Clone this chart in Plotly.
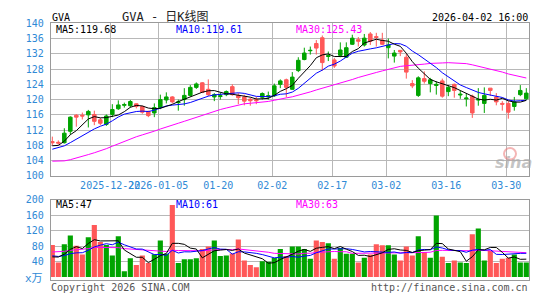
import plotly.graph_objects as go

# ---------------- data ----------------
dates = [
    "2025-12-08", "2025-12-09", "2025-12-10", "2025-12-11", "2025-12-12",
    "2025-12-15", "2025-12-16", "2025-12-17", "2025-12-18", "2025-12-19",
    "2025-12-22", "2025-12-23", "2025-12-24", "2025-12-26", "2025-12-29",
    "2025-12-30", "2025-12-31", "2026-01-02", "2026-01-05", "2026-01-06",
    "2026-01-07", "2026-01-08", "2026-01-09", "2026-01-12", "2026-01-13",
    "2026-01-14", "2026-01-15", "2026-01-16", "2026-01-20", "2026-01-21",
    "2026-01-22", "2026-01-23", "2026-01-26", "2026-01-27", "2026-01-28",
    "2026-01-29", "2026-01-30", "2026-02-02", "2026-02-03", "2026-02-04",
    "2026-02-05", "2026-02-06", "2026-02-09", "2026-02-10", "2026-02-11",
    "2026-02-12", "2026-02-13", "2026-02-17", "2026-02-18", "2026-02-19",
    "2026-02-20", "2026-02-23", "2026-02-24", "2026-02-25", "2026-02-26",
    "2026-02-27", "2026-03-02", "2026-03-03", "2026-03-04", "2026-03-05",
    "2026-03-06", "2026-03-09", "2026-03-10", "2026-03-11", "2026-03-12",
    "2026-03-13", "2026-03-16", "2026-03-17", "2026-03-18", "2026-03-19",
    "2026-03-20", "2026-03-23", "2026-03-24", "2026-03-25", "2026-03-26",
    "2026-03-27", "2026-03-30", "2026-03-31", "2026-04-01", "2026-04-02",
]

opens = [
    109.0, 108.8, 108.7, 111.7, 115.9, 115.9, 116.0, 116.1, 114.7, 113.5,
    116.1, 117.6, 118.5, 118.4, 118.9, 118.2, 116.9, 116.5, 117.9, 119.9,
    120.7, 119.2, 120.0, 121.1, 123.2, 124.4, 122.7, 120.7, 120.8, 121.3,
    123.4, 121.1, 120.7, 120.1, 120.0, 120.6, 120.7, 121.0, 124.0, 125.2,
    122.7, 127.6, 130.5, 132.8, 134.7, 136.2, 131.3, 130.4, 131.6, 131.1,
    134.5, 135.7, 134.3, 137.2, 136.5, 135.6, 133.6, 131.4, 132.9, 131.1,
    124.2, 121.1, 125.5, 124.2, 123.7, 124.9, 122.1, 124.0, 121.2, 120.2,
    120.9, 119.9, 119.0, 123.0, 120.7, 119.0, 119.0, 118.2, 121.3, 120.2,
]
highs = [
    110.3, 109.3, 112.5, 115.6, 116.2, 116.6, 117.3, 117.1, 115.2, 116.1,
    118.8, 119.8, 119.2, 119.9, 119.0, 118.4, 117.1, 119.0, 121.3, 121.9,
    120.9, 120.0, 123.0, 123.8, 124.5, 124.6, 125.3, 121.7, 121.9, 122.4,
    124.0, 121.7, 121.3, 120.5, 120.7, 121.9, 122.1, 124.2, 125.3, 125.5,
    127.2, 131.1, 133.6, 133.9, 135.6, 136.8, 132.6, 130.9, 135.0, 135.0,
    137.0, 136.4, 137.2, 137.7, 137.5, 137.5, 136.0, 133.0, 133.0, 132.0,
    125.1, 126.1, 127.4, 125.7, 124.8, 125.5, 123.8, 124.2, 122.4, 121.7,
    121.3, 123.0, 123.2, 123.0, 121.7, 119.6, 119.6, 120.7, 123.8, 123.0,
]
lows = [
    108.0, 108.2, 108.5, 110.8, 112.9, 114.8, 112.7, 113.3, 113.3, 113.1,
    115.4, 117.3, 117.9, 117.9, 117.7, 116.3, 115.4, 115.4, 117.5, 119.0,
    119.0, 117.1, 118.4, 120.8, 122.8, 121.7, 120.9, 119.6, 120.0, 120.9,
    121.0, 118.8, 118.5, 118.4, 118.8, 120.0, 120.0, 120.7, 123.0, 120.6,
    122.6, 127.2, 130.3, 131.8, 131.8, 127.6, 130.1, 128.3, 131.1, 130.9,
    134.3, 133.9, 133.9, 134.3, 133.9, 134.3, 130.8, 129.7, 131.4, 125.5,
    123.0, 120.7, 124.2, 121.9, 121.3, 120.5, 120.9, 120.5, 120.2, 118.2,
    115.2, 118.4, 116.5, 121.0, 118.5, 117.1, 115.0, 117.1, 120.9, 119.9,
]
closes = [
    108.7, 108.6, 111.2, 115.4, 115.4, 115.7, 116.9, 114.3, 113.8, 115.7,
    117.4, 118.6, 118.7, 119.5, 118.2, 116.7, 115.8, 117.9, 120.0, 120.7,
    119.4, 119.4, 121.1, 123.2, 124.1, 121.9, 121.3, 121.3, 121.0, 122.1,
    121.3, 120.5, 119.6, 119.7, 119.7, 121.6, 121.0, 123.6, 124.9, 123.2,
    125.9, 130.3, 132.2, 132.9, 133.5, 129.7, 131.5, 128.8, 133.0, 133.6,
    136.1, 135.3, 136.1, 135.3, 136.3, 134.5, 134.3, 132.2, 132.5, 127.2,
    123.6, 125.7, 124.8, 125.2, 124.0, 120.9, 123.2, 122.4, 121.4, 120.4,
    116.5, 120.0, 121.1, 122.4, 119.4, 118.8, 116.7, 119.4, 122.4, 121.7,
]
# volume in units of 10,000 shares (万)
volumes = [
    83.4, 37.8, 85.0, 107.5, 81.0, 58.5, 103.3, 134.8, 90.9, 83.4,
    56.0, 105.8, 15.4, 48.6, 31.2, 56.0, 36.2, 59.0, 95.0, 60.2,
    187.0, 36.2, 46.0, 46.0, 48.6, 72.6, 79.3, 95.0, 54.4, 56.0,
    61.0, 97.5, 42.8, 31.2, 25.4, 41.1, 39.5, 49.5, 72.6, 54.4,
    79.3, 79.3, 72.6, 47.8, 95.0, 90.9, 87.6, 47.8, 75.1, 60.2,
    60.2, 37.8, 50.3, 58.5, 85.0, 82.6, 82.6, 58.5, 42.8, 79.3,
    56.0, 105.8, 65.2, 50.3, 159.7, 52.7, 36.2, 42.8, 37.8, 36.2,
    110.8, 125.7, 42.8, 68.5, 36.2, 47.8, 50.3, 58.5, 37.8, 37.8,
]
# sessions before the visible window (only used by the moving averages)
prior_closes = [
    108.5, 108.8, 106.0, 104.0, 103.0, 101.0, 100.0, 99.0, 98.5, 98.0,
    99.0, 100.0, 101.0, 100.5, 102.0, 103.0, 101.5, 103.0, 104.0, 105.0,
    105.0, 106.0, 107.0, 106.5, 106.0, 108.1, 105.7, 106.9, 110.1,
]
prior_volumes = [
    30, 40, 35, 38, 32, 36, 37, 95, 80, 110,
    75, 90, 85, 100, 70, 95, 88, 82, 92, 90,
    55, 62, 58, 60, 55, 40, 48, 45, 45.6,
]
tick_index = [10, 18, 28, 37, 47, 56, 66, 76]
tick_labels = ["2025-12-22", "2026-01-05", "01-20", "02-02", "02-17", "03-02", "03-16", "03-30"]
price_ticks = [100, 104, 108, 112, 116, 120, 124, 128, 132, 136, 140]
volume_ticks = [40, 80, 120, 160, 200]
ma_price_labels = ["MA5:119.68", "MA10:119.61", "MA30:125.43"]
ma_volume_labels = ["MA5:47", "MA10:61", "MA30:63"]

# ---------------- helpers ----------------
W, H = 545, 300
def px(x):
    return x / W
def py(y):
    return 1 - y / H

n = len(closes)
xs = list(range(n))

def moving_average(prior, vals, k):
    full = list(prior) + list(vals)
    off = len(prior)
    return [sum(full[off + i - k + 1: off + i + 1]) / k for i in range(len(vals))]

ma5 = moving_average(prior_closes, closes, 5)
ma10 = moving_average(prior_closes, closes, 10)
ma30 = moving_average(prior_closes, closes, 30)
vma5 = moving_average(prior_volumes, volumes, 5)
vma10 = moving_average(prior_volumes, volumes, 10)
vma30 = moving_average(prior_volumes, volumes, 30)

UP = "#00a400"
DOWN = "#ff5858"
GRID = "#b8b8b8"
BORDER = "#9a9a9a"
AXTXT = "#2f8ad6"
MONO = "DejaVu Sans Mono, Noto Sans CJK SC, monospace"

vol_colors = [UP if c >= o else DOWN for o, c in zip(opens, closes)]

fig = go.Figure()

fig.add_trace(go.Candlestick(
    x=xs, open=opens, high=highs, low=lows, close=closes,
    increasing=dict(line=dict(color=UP, width=1), fillcolor=UP),
    decreasing=dict(line=dict(color=DOWN, width=1), fillcolor=DOWN),
    whiskerwidth=0, showlegend=False, xaxis="x", yaxis="y",
))
for vals, col in [(ma30, "#ff00ff"), (ma10, "#0000ff"), (ma5, "#000000")]:
    fig.add_trace(go.Scatter(x=xs, y=vals, mode="lines", line=dict(color=col, width=1),
                             showlegend=False, xaxis="x", yaxis="y", hoverinfo="skip"))

fig.add_trace(go.Bar(x=xs, y=volumes, marker=dict(color=vol_colors, line=dict(width=0)),
                     width=0.86, showlegend=False, xaxis="x2", yaxis="y2"))
for vals, col in [(vma30, "#ff00ff"), (vma10, "#0000ff"), (vma5, "#000000")]:
    fig.add_trace(go.Scatter(x=xs, y=vals, mode="lines", line=dict(color=col, width=1),
                             showlegend=False, xaxis="x2", yaxis="y2", hoverinfo="skip"))

xdom = [px(50.7), px(529)]
xrange = [-0.27, 79.45]
tickvals = [i - 0.35 for i in tick_index]

fig.update_layout(
    width=W, height=H,
    margin=dict(l=0, r=0, t=0, b=0),
    paper_bgcolor="white", plot_bgcolor="white",
    boxgap=0.16,
    bargap=0.14,
    font=dict(family=MONO, size=10, color="#000"),
    xaxis=dict(domain=xdom, range=xrange, anchor="y",
               tickvals=tickvals, ticktext=tick_labels, tickangle=0,
               showgrid=True, gridcolor=GRID, gridwidth=1,
               showline=True, linecolor=BORDER, linewidth=1, mirror=True,
               ticks="", tickfont=dict(family=MONO, size=10, color=AXTXT),
               zeroline=False, rangeslider=dict(visible=False), fixedrange=True),
    yaxis=dict(domain=[py(177), py(18)], range=[100, 140], anchor="x",
               tickvals=price_ticks, ticktext=[str(v) for v in price_ticks],
               showgrid=True, gridcolor=GRID, gridwidth=1,
               showline=True, linecolor=BORDER, linewidth=1, mirror=True,
               ticks="", ticklabelstandoff=4,
               tickfont=dict(family=MONO, size=10, color=AXTXT),
               zeroline=False, fixedrange=True),
    xaxis2=dict(domain=xdom, range=xrange, anchor="y2",
                showgrid=False, showticklabels=False,
                showline=True, linecolor=BORDER, linewidth=1, mirror=True,
                ticks="", zeroline=False, fixedrange=True),
    yaxis2=dict(domain=[py(285), py(202)], range=[-6.5, 200], anchor="x2",
                tickvals=volume_ticks, ticktext=[str(v) for v in volume_ticks],
                showgrid=True, gridcolor=GRID, gridwidth=1,
                showline=True, linecolor=BORDER, linewidth=1, mirror=True,
                ticks="", ticklabelstandoff=4,
                tickfont=dict(family=MONO, size=10, color=AXTXT),
                zeroline=False, fixedrange=True),
)

def label(text, x, y, color="#000", anchor="left", size=10):
    fig.add_annotation(text=text, x=px(x), y=py(y), xref="paper", yref="paper",
                       xanchor=anchor, yanchor="middle", showarrow=False,
                       font=dict(family=MONO, size=size, color=color))

label("GVA", 50, 12)
label("GVA - 日K线图", 120, 11, color="#222", size=12)
label("2026-04-02 16:00", 530, 12, anchor="right")
ma_colors = ["#000000", "#0000ff", "#ff00ff"]
ma_x = [54, 174, 294]
for t, c, x in zip(ma_price_labels, ma_colors, ma_x):
    label(t, x, 24, color=c)
for t, c, x in zip(ma_volume_labels, ma_colors, ma_x):
    label(t, x, 207, color=c)
label("x万", 45, 284, color=AXTXT, anchor="right", size=11)
label("Copyright 2026 SINA.COM", 49, 293, color="#555")
label("http://finance.sina.com.cn", 530, 293, color="#555", anchor="right")

# sina watermark
fig.add_shape(type="circle", xref="paper", yref="paper",
              x0=px(504), x1=px(516), y0=py(160), y1=py(148),
              line=dict(color="rgba(235,120,120,0.55)", width=2),
              fillcolor="rgba(255,255,255,0)")
fig.add_annotation(text="<b><i>sina</i></b>", x=px(513), y=py(163), xref="paper", yref="paper",
                   showarrow=False, xanchor="center", yanchor="middle",
                   font=dict(family="DejaVu Sans", size=16, color="rgba(170,170,170,0.7)"))

fig.write_html("out.html")
